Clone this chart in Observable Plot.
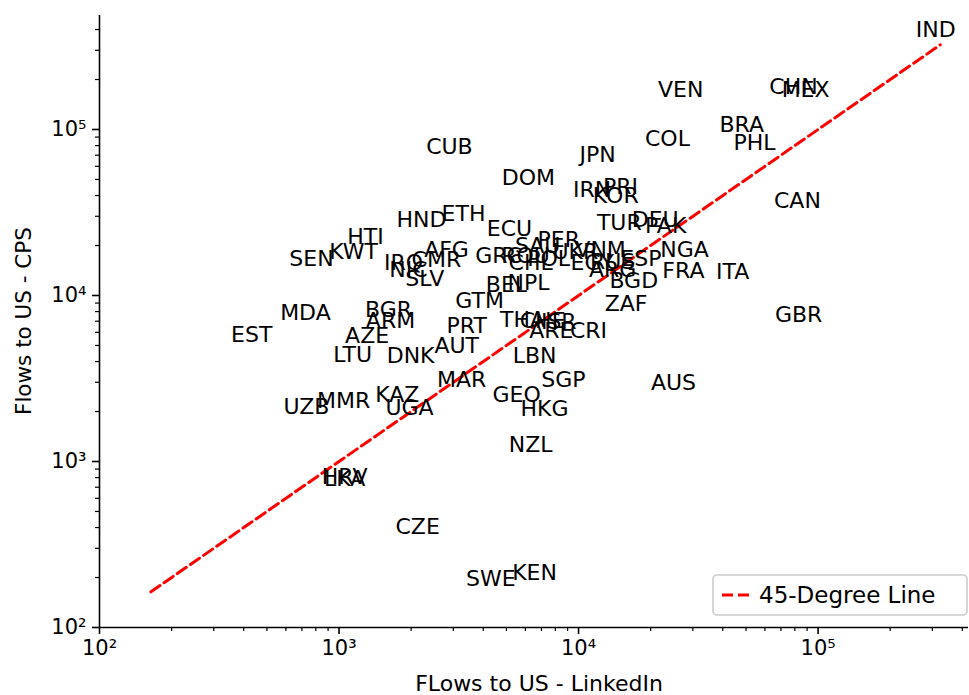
<!DOCTYPE html>
<html>
<head>
<meta charset="utf-8">
<script src="https://cdn.jsdelivr.net/npm/d3@7"></script>
<script src="https://cdn.jsdelivr.net/npm/@observablehq/plot@0.6"></script>
<style>
  html, body { margin: 0; padding: 0; background: white; }
  #chart svg { display: block; }
</style>
</head>
<body>
<div id="chart"></div>
<script>
const countries = ["IND","CHN","MEX","VEN","BRA","PHL","COL","JPN","CUB","DOM",
  "IRN","PRI","KOR","CAN","TUR","DEU","PAK","NGA","FRA","ITA",
  "ESP","BGD","ZAF","GBR","AUS","CRI","ARE","THA","CHE","ISR",
  "LBN","SGP","GEO","HKG","NZL","KEN","SWE","CZE","HRV","LKA",
  "UZB","MMR","KAZ","UGA","MAR","DNK","AUT","LTU","AZE","EST",
  "MDA","BGR","ARM","PRT","GTM","BEL","NPL","SLV","NIC","IRQ",
  "CMR","AFG","HND","ETH","ECU","HTI","KWT","SEN","GRC","SAU",
  "PER","CHL","ROU","POL","UKR","VNM","EGY","RUS","ARG"];
const linkedin = [310000,79000,88700,26700,48000,54300,23500,12000,2890,6180,
  11400,14960,14300,82000,14800,20900,23100,27700,27400,44000,
  18200,17000,15800,83000,24900,11000,7700,5840,7080,8270,
  6550,8650,5510,7210,6310,6550,4300,2130,1055,1055,
  731,1045,1750,1970,3250,1990,3100,1140,1310,432,
  724,1610,1640,3410,3860,5000,6180,2280,1950,1860,
  2550,2810,2210,3310,5150,1290,1150,767,4630,6750,
  8270,6310,6010,7500,9700,12360,11400,13870,13870];
const cps = [395000,181000,174000,172000,107000,82400,88300,70600,78000,51400,
  43500,44800,39500,37300,27200,28700,26400,18900,14000,13800,
  16700,12300,8950,7590,2990,6150,6150,7160,7060,6970,
  4300,3080,2500,2080,1250,214,197,406,802,790,
  2140,2300,2500,2110,3080,4350,5000,4410,5740,5820,
  7800,8130,7060,6590,9330,11600,11970,12650,14200,15600,
  16300,18900,28700,31200,25000,22600,18200,16500,17400,20000,
  21700,15800,17200,16700,18400,18900,15800,16000,14200];
const lineRange = [164, 324000];
const majorTicks = [100, 1000, 10000, 100000];
const xDomain = [100, 424600];
const yDomain = [100, 486000];

const data = countries.map((c, i) => ({code: c, linkedin: linkedin[i], cps: cps[i]}));
const minorTicks = [];
for (let e = 2; e <= 5; e++) for (let m = 2; m <= 9; m++) minorTicks.push(m * Math.pow(10, e));
const minorX = minorTicks.filter(v => v <= xDomain[1]);
const minorY = minorTicks.filter(v => v <= yDomain[1]);
const sup = {"2": "\u00B2", "3": "\u00B3", "4": "\u2074", "5": "\u2075"};
const fmt = d => "10" + sup[String(Math.round(Math.log10(d)))];

const svg = Plot.plot({
  width: 969,
  height: 695,
  marginLeft: 99,
  marginRight: 1,
  marginTop: 15,
  marginBottom: 68,
  style: {fontFamily: "DejaVu Sans", fontSize: "21px", background: "white", color: "black"},
  x: {type: "log", domain: xDomain},
  y: {type: "log", domain: yDomain},
  marks: [
    Plot.axisX({ticks: minorX, tickSize: 4, tickFormat: () => "", label: null, strokeWidth: 1.2}),
    Plot.axisX({ticks: majorTicks, tickSize: 7, tickPadding: 6, tickFormat: fmt, label: null, fontSize: 21, strokeWidth: 1.6}),
    Plot.axisY({ticks: minorY, tickSize: 4, tickFormat: () => "", label: null, strokeWidth: 1.2}),
    Plot.axisY({ticks: majorTicks, tickSize: 7, tickPadding: 6, tickFormat: fmt, label: null, fontSize: 21, strokeWidth: 1.6}),
    Plot.ruleX([xDomain[0]], {stroke: "black", strokeWidth: 1.6}),
    Plot.ruleY([yDomain[0]], {stroke: "black", strokeWidth: 1.6}),
    Plot.line(lineRange, {x: d => d, y: d => d, stroke: "red", strokeWidth: 3, strokeDasharray: "11,5"}),
    Plot.text(data, {x: "linkedin", y: "cps", text: "code", fontSize: 22, fill: "black", lineAnchor: "middle", textAnchor: "middle"})
  ]
});

const s = d3.select(svg);
s.append("text").attr("x", 539).attr("y", 683).attr("dy", "0.35em").attr("text-anchor", "middle")
  .attr("font-size", 22).attr("fill", "black").text("FLows to US - LinkedIn");
s.append("text").attr("transform", "translate(23,321) rotate(-90)").attr("dy", "0.35em").attr("text-anchor", "middle")
  .attr("font-size", 21.5).attr("fill", "black").text("Flows to US - CPS");

const lg = s.append("g");
lg.append("rect").attr("x", 713).attr("y", 575).attr("width", 254).attr("height", 40)
  .attr("rx", 4).attr("fill", "white").attr("fill-opacity", 0.8).attr("stroke", "#cccccc").attr("stroke-width", 1.6);
lg.append("line").attr("x1", 722).attr("x2", 750).attr("y1", 595).attr("y2", 595)
  .attr("stroke", "red").attr("stroke-width", 3).attr("stroke-dasharray", "11,5");
lg.append("text").attr("x", 759).attr("y", 595).attr("dy", "0.35em").attr("font-size", 23)
  .attr("text-anchor", "start").attr("fill", "black").text("45-Degree Line");

document.getElementById("chart").appendChild(svg);
</script>
</body>
</html>
